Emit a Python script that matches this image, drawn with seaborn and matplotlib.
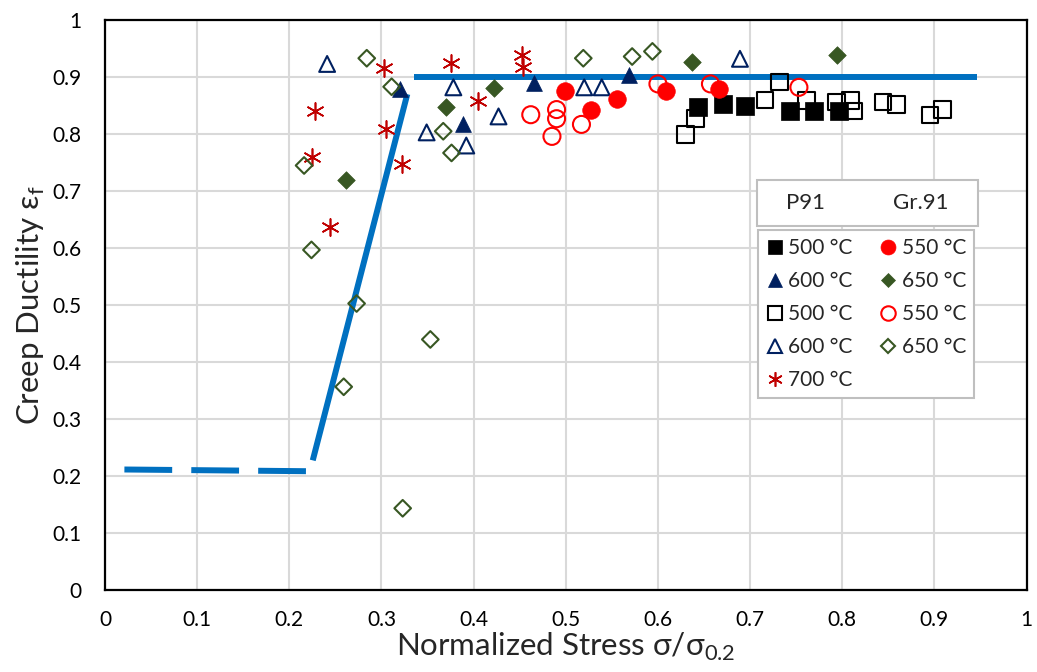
import pandas as pd
import matplotlib.pyplot as plt
import seaborn as sns
from matplotlib.lines import Line2D
from matplotlib.patches import Rectangle

# -----------------------------
# data
# -----------------------------
p91_500_x = [0.643, 0.671, 0.694, 0.743, 0.769, 0.796]
p91_500_y = [0.847, 0.852, 0.849, 0.841, 0.840, 0.841]

gr91_550_x = [0.499, 0.527, 0.556, 0.609, 0.666]
gr91_550_y = [0.876, 0.843, 0.862, 0.876, 0.879]

p91_600_x = [0.320, 0.388, 0.466, 0.569]
p91_600_y = [0.879, 0.818, 0.889, 0.903]

gr91_650_x = [0.262, 0.370, 0.422, 0.637, 0.794]
gr91_650_y = [0.720, 0.847, 0.881, 0.926, 0.939]

p91_500o_x = [0.630, 0.641, 0.716, 0.732, 0.761, 0.794, 0.809, 0.813, 0.844, 0.859, 0.895, 0.909]
p91_500o_y = [0.799, 0.827, 0.860, 0.891, 0.859, 0.856, 0.859, 0.841, 0.856, 0.852, 0.833, 0.843]

gr91_550o_x = [0.462, 0.490, 0.490, 0.485, 0.517, 0.600, 0.657, 0.753]
gr91_550o_y = [0.834, 0.843, 0.827, 0.796, 0.817, 0.888, 0.888, 0.882]

p91_600o_x = [0.241, 0.349, 0.378, 0.392, 0.427, 0.520, 0.539, 0.689]
p91_600o_y = [0.923, 0.803, 0.882, 0.780, 0.831, 0.882, 0.882, 0.932]

gr91_650o_x = [0.216, 0.224, 0.259, 0.273, 0.284, 0.311, 0.323, 0.353, 0.367, 0.376, 0.519, 0.572, 0.594]
gr91_650o_y = [0.745, 0.597, 0.357, 0.503, 0.933, 0.883, 0.144, 0.440, 0.805, 0.767, 0.933, 0.936, 0.945]

p91_700_x = [0.225, 0.228, 0.244, 0.303, 0.305, 0.322, 0.375, 0.405, 0.453, 0.454]
p91_700_y = [0.760, 0.840, 0.638, 0.916, 0.809, 0.747, 0.925, 0.858, 0.938, 0.917]

# trend lines
low_x = [0.021, 0.219]
low_y = [0.212, 0.209]
rise_x = [0.2254, 0.328]
rise_y = [0.228, 0.870]
top_x = [0.335, 0.946]
top_y = [0.900, 0.900]

x_ticks = [0, 0.1, 0.2, 0.3, 0.4, 0.5, 0.6, 0.7, 0.8, 0.9, 1]
y_ticks = [0, 0.1, 0.2, 0.3, 0.4, 0.5, 0.6, 0.7, 0.8, 0.9, 1]

NAVY = '#002060'
GREEN = '#385723'
RED = '#FF0000'
DRED = '#C00000'
BLUE = '#0070C0'

sns.set_style("white")
plt.rcParams['font.family'] = ['Lato', 'DejaVu Sans']
plt.rcParams['mathtext.fontset'] = 'custom'
plt.rcParams['mathtext.rm'] = 'Lato'

fig = plt.figure(figsize=(10.37, 6.72), dpi=100)
ax = fig.add_axes([0.1013, 0.1214, 0.8886, 0.8488])

# lines
low = pd.DataFrame({'x': low_x, 'y': low_y})
sns.lineplot(data=low, x='x', y='y', ax=ax, color=BLUE, lw=4.3, sort=False,
             estimator=None, zorder=2)
ax.lines[-1].set_dashes((8, 3.2))
ax.lines[-1].set_dash_capstyle('butt')
for lx, ly in [(rise_x, rise_y), (top_x, top_y)]:
    d = pd.DataFrame({'x': lx, 'y': ly})
    sns.lineplot(data=d, x='x', y='y', ax=ax, color=BLUE, lw=4.3, sort=False,
                 estimator=None, zorder=2)
    ax.lines[-1].set_solid_capstyle('butt')

# scatter groups: (x, y, marker, size, face, edge, lw, label)
groups = [
    (p91_500_x, p91_500_y, 's', 150, 'black', 'black', 0.5, '500 °C'),
    (p91_600_x, p91_600_y, '^', 130, NAVY, NAVY, 0.5, '600 °C'),
    (p91_500o_x, p91_500o_y, 's', 140, 'none', 'black', 1.5, '500 °C'),
    (p91_600o_x, p91_600o_y, '^', 130, 'none', NAVY, 1.5, '600 °C'),
    (p91_700_x, p91_700_y, (6, 2, 0), 150, DRED, DRED, 1.2, '700 °C'),
    (gr91_550_x, gr91_550_y, 'o', 160, RED, RED, 0.5, '550 °C'),
    (gr91_650_x, gr91_650_y, 'D', 80, GREEN, GREEN, 0.5, '650 °C'),
    (gr91_550o_x, gr91_550o_y, 'o', 150, 'none', RED, 1.5, '550 °C'),
    (gr91_650o_x, gr91_650o_y, 'D', 72, 'none', GREEN, 1.5, '650 °C'),
]

handles = []
for gx, gy, m, s, fc, ec, lw, lab in groups:
    df = pd.DataFrame({'x': gx, 'y': gy})
    sns.scatterplot(data=df, x='x', y='y', ax=ax, marker=m, s=s,
                    facecolor=fc, edgecolor=ec, linewidth=lw, zorder=3)
    ms = (s ** 0.5) * 0.85
    handles.append(Line2D([], [], ls='none', marker=m, markersize=ms,
                          markerfacecolor=fc, markeredgecolor=ec,
                          markeredgewidth=lw, label=lab))

ax.set_xlim(0, 1)
ax.set_ylim(0, 1)
ax.set_xticks(x_ticks)
ax.set_yticks(y_ticks)
ax.set_xticklabels([f'{t:g}' for t in x_ticks])
ax.set_yticklabels([f'{t:g}' for t in y_ticks])
ax.tick_params(length=0, labelsize=15, colors='black')
ax.tick_params(axis='y', pad=17)
ax.tick_params(axis='x', pad=14)
ax.grid(True, color='#D9D9D9', lw=1.5)
ax.set_axisbelow(True)
for sp in ax.spines.values():
    sp.set_color('black')
    sp.set_linewidth(1.6)

ax.set_xlabel('Normalized Stress σ/σ$_\\mathregular{0.2}$', fontsize=22.5, labelpad=1)
ax.set_ylabel('Creep Ductility ε$_\\mathregular{f}$', fontsize=22.5, labelpad=4)

# legend
leg = ax.legend(handles=handles, ncol=2, loc='upper left',
                bbox_to_anchor=(758 / 1037, 1 - 230 / 672),
                bbox_transform=fig.transFigure, borderaxespad=0,
                fontsize=15, frameon=True, fancybox=False, framealpha=1,
                edgecolor='#BFBFBF', handlelength=0.8, handletextpad=0.25,
                columnspacing=1.3, labelspacing=0.62, borderpad=0.4)
leg.get_frame().set_linewidth(1.5)

# header box above legend
fig.patches.append(Rectangle((757 / 1037, 1 - 226 / 672), 221 / 1037, 46 / 672,
                             transform=fig.transFigure, facecolor='white',
                             edgecolor='#BFBFBF', lw=1.5, zorder=5))
fig.text(805 / 1037, 1 - 203 / 672, 'P91', fontsize=16, ha='center', va='center', zorder=6)
fig.text(921 / 1037, 1 - 203 / 672, 'Gr.91', fontsize=16, ha='center', va='center', zorder=6)

fig.savefig('out.png', dpi=100)
